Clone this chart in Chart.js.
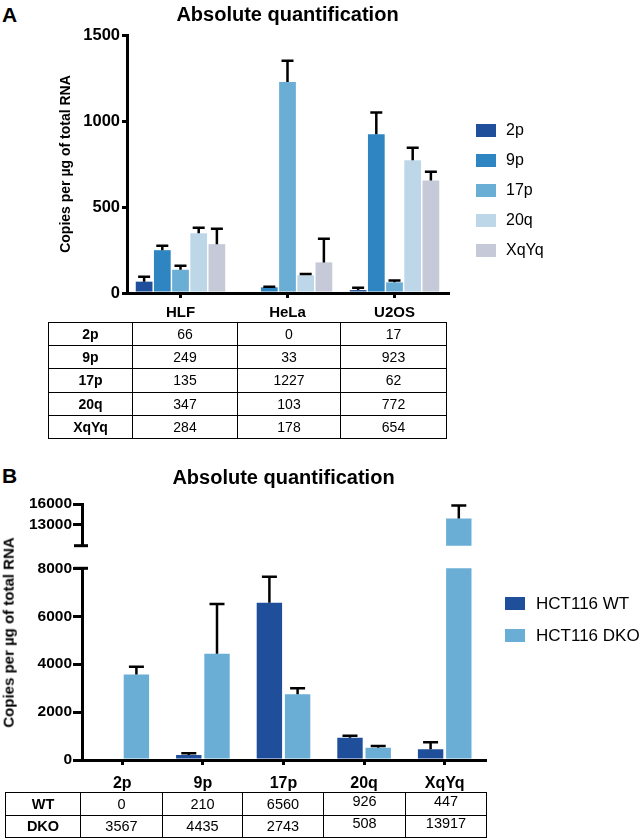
<!DOCTYPE html>
<html>
<head>
<meta charset="utf-8">
<script src="https://cdn.jsdelivr.net/npm/chart.js@4"></script>
<style>
  body { margin: 0; background: #fff; }
  #page { position: relative; width: 641px; height: 838px; overflow: hidden;
          font-family: 'Liberation Sans', Arial, Helvetica, sans-serif; color: #000; }
  canvas { position: absolute; left: 0; }
  .panel { position: absolute; left: 2px; font-size: 21px; font-weight: bold; line-height: 1; }
  .ytitle { position: absolute; white-space: nowrap; font-weight: bold; transform: rotate(-90deg); }
  .legend-item { position: absolute; white-space: nowrap; line-height: 1; }
  .legend-item .box { position: absolute; left: 0; width: 20px; height: 13px; }
  table { position: absolute; border-collapse: collapse; table-layout: fixed; }
  td { border: 1.5px solid #000; text-align: center; padding: 0; }
  td.lab { font-weight: bold; }
  td .up { position: relative; top: -3px; }
</style>
</head>
<body>
<div id="page">
  <div class="panel" style="top:4px">A</div>
  <canvas id="chartA" width="641" height="333" style="top:0"></canvas>
  <div id="legendA"></div>
  <table id="tableA" style="left:48px; top:322px; font-size:14px"></table>

  <div class="panel" style="top:465px">B</div>
  <canvas id="chartBHigh" width="641" height="96" style="top:460px"></canvas>
  <canvas id="chartBLow" width="641" height="244" style="top:556px"></canvas>
  <div class="ytitle" id="ytitleB" style="font-size:15px">Copies per µg of total RNA</div>
  <div id="legendB"></div>
  <table id="tableB" style="left:5px; top:792px; font-size:14.5px"></table>
</div>
<script>
// ---- panel A data ----
const groupsA = ['HLF', 'HeLa', 'U2OS'];
const seriesA = ['2p', '9p', '17p', '20q', 'XqYq'];
const colorsA = ['#1f4f9b', '#2f84c2', '#6aaed6', '#bdd7e8', '#c6c9d7'];
const valuesA = [
  [66, 0, 17],
  [249, 33, 923],
  [135, 1227, 62],
  [347, 103, 772],
  [284, 178, 654]
];
// top of the error bar (mean + error)
const errTopA = [
  [95, null, 30],
  [275, 36, 1050],
  [158, 1350, 72],
  [380, 110, 845],
  [373, 315, 705]
];
const ticksA = [0, 500, 1000, 1500];

// ---- panel B data ----
const groupsB = ['2p', '9p', '17p', '20q', 'XqYq'];
const seriesB = ['HCT116 WT', 'HCT116 DKO'];
const rowLabelsB = ['WT', 'DKO'];
const colorsB = ['#1f4f9b', '#6aaed6'];
const valuesB = [
  [0, 210, 6560, 926, 447],
  [3567, 4435, 2743, 508, 13917]
];
const errTopB = [
  [null, 280, 7650, 1010, 740],
  [3890, 6510, 2990, 580, 15800]
];
const ticksBLow = [0, 2000, 4000, 6000, 8000];
const ticksBHigh = [13000, 16000];

const TITLE = 'Absolute quantification';
const YTITLE = 'Copies per µg of total RNA';

Chart.defaults.font.family = "'Liberation Sans', Arial, Helvetica, sans-serif";
Chart.defaults.color = '#000';

// error bars drawn through the chart's own y scale
function makeErrorBars(tops, cap, width) {
  return {
    id: 'errorBars',
    afterDatasetsDraw(chart) {
      const { ctx, chartArea } = chart;
      const y = chart.scales.y;
      ctx.save();
      ctx.beginPath();
      ctx.rect(chartArea.left, chartArea.top - 2, chartArea.width, chartArea.height + 2);
      ctx.clip();
      ctx.strokeStyle = '#000';
      ctx.lineWidth = width;
      tops.forEach((row, i) => {
        chart.getDatasetMeta(i).data.forEach((bar, j) => {
          const top = row[j];
          if (top == null) return;
          const yTop = y.getPixelForValue(top);
          const yBar = y.getPixelForValue(chart.data.datasets[i].data[j]);
          ctx.beginPath();
          ctx.moveTo(bar.x, yBar);
          ctx.lineTo(bar.x, yTop);
          ctx.moveTo(bar.x - cap / 2, yTop);
          ctx.lineTo(bar.x + cap / 2, yTop);
          ctx.stroke();
        });
      });
      ctx.restore();
    }
  };
}

// short horizontal end mark where the y axis is broken
function makeBreakMark(edge) {
  return {
    id: 'breakMark',
    afterDraw(chart) {
      const { ctx, chartArea } = chart;
      const yy = edge === 'bottom' ? chartArea.bottom : chartArea.top;
      ctx.save();
      ctx.strokeStyle = '#000';
      ctx.lineWidth = 3;
      ctx.beginPath();
      ctx.moveTo(chartArea.left - 8, yy);
      ctx.lineTo(chartArea.left + 6, yy);
      ctx.stroke();
      ctx.restore();
    }
  };
}

function axisGrid(tickLength) {
  return { drawOnChartArea: false, drawTicks: true, tickLength: tickLength, color: '#000', lineWidth: 3, offset: false };
}

// ---- chart A ----
new Chart(document.getElementById('chartA'), {
  type: 'bar',
  data: {
    labels: groupsA,
    datasets: seriesA.map((name, i) => ({
      label: name,
      data: valuesA[i],
      backgroundColor: colorsA[i],
      borderWidth: 0,
      categoryPercentage: 0.85,
      barPercentage: 0.92
    }))
  },
  options: {
    responsive: false,
    devicePixelRatio: 1,
    animation: false,
    layout: { padding: { left: 55, right: 193, top: 0, bottom: 0 } },
    plugins: {
      legend: { display: false },
      tooltip: { enabled: false },
      title: {
        display: true, text: TITLE, fullSize: false,
        font: { size: 20, weight: 'bold' }, padding: { top: 3, bottom: 8 }
      }
    },
    scales: {
      x: {
        grid: axisGrid(5),
        border: { display: true, color: '#000', width: 3 },
        ticks: { font: { size: 15, weight: 'bold' }, padding: 6, maxRotation: 0, autoSkip: false },
        afterFit: s => { s.height = 40; }
      },
      y: {
        min: 0, max: 1500,
        afterBuildTicks: s => { s.ticks = ticksA.map(v => ({ value: v })); },
        grid: axisGrid(5),
        border: { display: true, color: '#000', width: 3 },
        ticks: { font: { size: 16.5, weight: 'bold' }, padding: 2, callback: v => String(v) },
        title: { display: true, text: YTITLE, font: { size: 14, weight: 'bold' }, padding: { top: 3, bottom: 0 } },
        afterFit: s => { s.width = 72; }
      }
    }
  },
  plugins: [makeErrorBars(errTopA, 12, 2.5)]
});

// ---- chart B: upper segment of the broken axis ----
function datasetsB() {
  return seriesB.map((name, i) => ({
    label: name,
    data: valuesB[i],
    backgroundColor: colorsB[i],
    borderWidth: 0,
    categoryPercentage: 0.70,
    barPercentage: 0.9
  }));
}

new Chart(document.getElementById('chartBHigh'), {
  type: 'bar',
  data: { labels: groupsB, datasets: datasetsB() },
  options: {
    responsive: false,
    devicePixelRatio: 1,
    animation: false,
    layout: { padding: { left: 0, right: 156, top: 0, bottom: 4.3 } },
    plugins: {
      legend: { display: false },
      tooltip: { enabled: false },
      title: {
        display: true, text: TITLE, fullSize: false,
        font: { size: 20, weight: 'bold' }, padding: { top: 6, bottom: 14 }
      }
    },
    scales: {
      x: { display: false },
      y: {
        min: 10000, max: 16000,
        afterBuildTicks: s => { s.ticks = ticksBHigh.map(v => ({ value: v })); },
        grid: axisGrid(9),
        border: { display: true, color: '#000', width: 3 },
        ticks: { font: { size: 15.5, weight: 'bold' }, padding: 1, callback: v => String(v) },
        afterFit: s => { s.width = 82; }
      }
    }
  },
  plugins: [makeErrorBars(errTopB, 15, 2.5), makeBreakMark('bottom')]
});

// ---- chart B: lower segment ----
new Chart(document.getElementById('chartBLow'), {
  type: 'bar',
  data: { labels: groupsB, datasets: datasetsB() },
  options: {
    responsive: false,
    devicePixelRatio: 1,
    animation: false,
    layout: { padding: { left: 0, right: 156, top: 12.3, bottom: 0 } },
    plugins: { legend: { display: false }, tooltip: { enabled: false } },
    scales: {
      x: {
        grid: axisGrid(5),
        border: { display: true, color: '#000', width: 3 },
        ticks: { font: { size: 16, weight: 'bold' }, padding: 9, maxRotation: 0, autoSkip: false },
        afterFit: s => { s.height = 40; }
      },
      y: {
        min: 0, max: 8000,
        afterBuildTicks: s => { s.ticks = ticksBLow.map(v => ({ value: v })); },
        grid: axisGrid(9),
        border: { display: true, color: '#000', width: 3 },
        ticks: { font: { size: 15.5, weight: 'bold' }, padding: 1, callback: v => String(v) },
        afterFit: s => { s.width = 82; }
      }
    }
  },
  plugins: [makeErrorBars(errTopB, 15, 2.5), makeBreakMark('top')]
});

// ---- legends ----
function buildLegend(el, names, colors, left, top0, step, fontSize, textGap) {
  names.forEach((name, i) => {
    const item = document.createElement('div');
    item.className = 'legend-item';
    item.style.left = left + 'px';
    item.style.top = (top0 + i * step - fontSize / 2) + 'px';
    item.style.fontSize = fontSize + 'px';
    item.style.height = fontSize + 'px';
    item.innerHTML = '<span class="box" style="background:' + colors[i] + ';top:' + (fontSize / 2 - 6.5) + 'px"></span>' +
      '<span style="padding-left:' + textGap + 'px">' + name + '</span>';
    el.appendChild(item);
  });
}
buildLegend(document.getElementById('legendA'), seriesA, colorsA, 476, 130, 30, 16, 30);
buildLegend(document.getElementById('legendB'), seriesB, colorsB, 505, 603, 32, 17, 31);

// ---- value tables ----
function buildTable(el, rowNames, values, widths, rowHeight, raisedCols) {
  const cg = document.createElement('colgroup');
  widths.forEach(w => {
    const c = document.createElement('col');
    c.style.width = w + 'px';
    cg.appendChild(c);
  });
  el.appendChild(cg);
  rowNames.forEach((name, i) => {
    const tr = document.createElement('tr');
    tr.style.height = rowHeight + 'px';
    let html = '<td class="lab">' + name + '</td>';
    values[i].forEach((v, j) => {
      html += raisedCols.includes(j) ? '<td><span class="up">' + v + '</span></td>' : '<td>' + v + '</td>';
    });
    tr.innerHTML = html;
    el.appendChild(tr);
  });
}
buildTable(document.getElementById('tableA'), seriesA, valuesA, [84, 105, 103, 106], 23.2, []);
buildTable(document.getElementById('tableB'), rowLabelsB, valuesB, [75, 82, 80, 81, 82, 81], 22.5, [3, 4]);

// rotated y title of panel B, centred on the whole broken axis
const yt = document.getElementById('ytitleB');
const w = yt.offsetWidth, h = yt.offsetHeight;
yt.style.left = (8 - w / 2) + 'px';
yt.style.top = (632 - h / 2) + 'px';
</script>
</body>
</html>
